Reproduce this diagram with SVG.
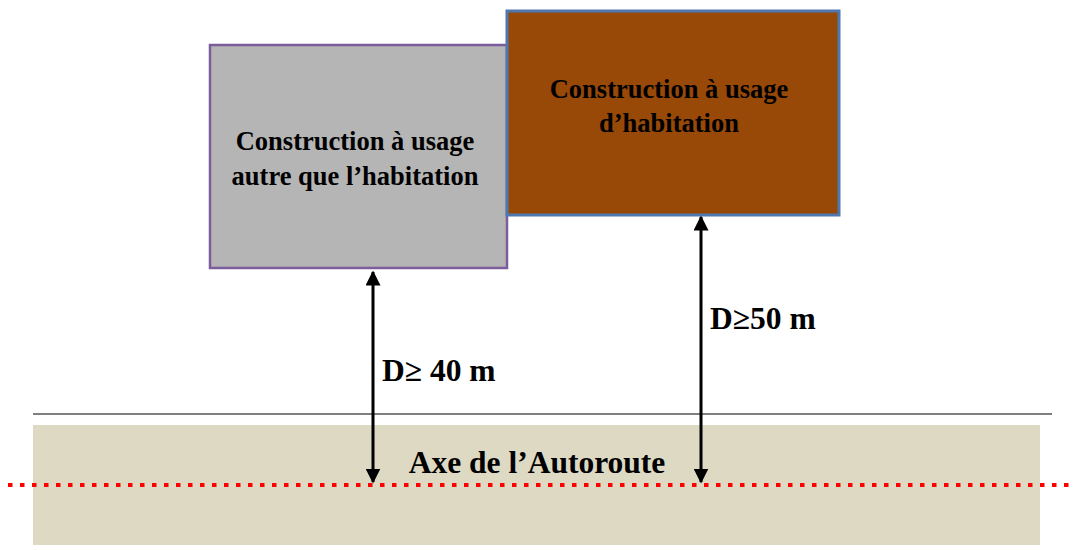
<svg xmlns="http://www.w3.org/2000/svg" width="1075" height="550" viewBox="0 0 1075 550">
<style>
.lbl{font-family:"Liberation Serif","Times New Roman",serif;font-weight:bold;fill:#000;text-anchor:middle}
.box{font-size:26.5px}
.dim{font-size:31.5px;text-anchor:start}
.conn{stroke:#000;stroke-width:3;fill:none}
</style>
<defs>
<marker id="ah" viewBox="0 0 10 10" refX="9" refY="5" markerWidth="5" markerHeight="5" orient="auto-start-reverse" markerUnits="strokeWidth">
<path d="M0,0 L10,5 L0,10 z" fill="#000"/>
</marker>
</defs>
<rect x="0" y="0" width="1075" height="550" fill="#fff"/>
<g id="road">
<line x1="33" y1="414" x2="1052" y2="414" stroke="#7f7f7f" stroke-width="2"/>
<rect x="33" y="425" width="1007" height="120" fill="#ddd9c3"/>
<line x1="8" y1="485" x2="1075" y2="485" stroke="#ff0000" stroke-width="4" stroke-dasharray="4.5 7.5"/>
<text class="lbl dim" x="537" y="473" style="text-anchor:middle">Axe de l’Autoroute</text>
</g>
<g id="node-autre">
<rect x="210" y="45" width="297" height="223" fill="#b5b5b5" stroke="#7b5d9c" stroke-width="2.5"/>
<text class="lbl box" x="355" y="150">Construction à usage</text>
<text class="lbl box" x="355" y="185">autre que l’habitation</text>
</g>
<g id="node-habitation">
<rect x="507" y="11" width="332" height="204" fill="#984807" stroke="#4f78b0" stroke-width="3"/>
<text class="lbl box" x="669" y="98">Construction à usage</text>
<text class="lbl box" x="669" y="132">d’habitation</text>
</g>
<g id="connectors">
<line class="conn" x1="373" y1="272" x2="373" y2="482" marker-start="url(#ah)" marker-end="url(#ah)"/>
<line class="conn" x1="701" y1="217" x2="701" y2="482" marker-start="url(#ah)" marker-end="url(#ah)"/>
<text class="lbl dim" x="382" y="381">D≥ 40 m</text>
<text class="lbl dim" x="710" y="329">D≥50 m</text>
</g>
</svg>
